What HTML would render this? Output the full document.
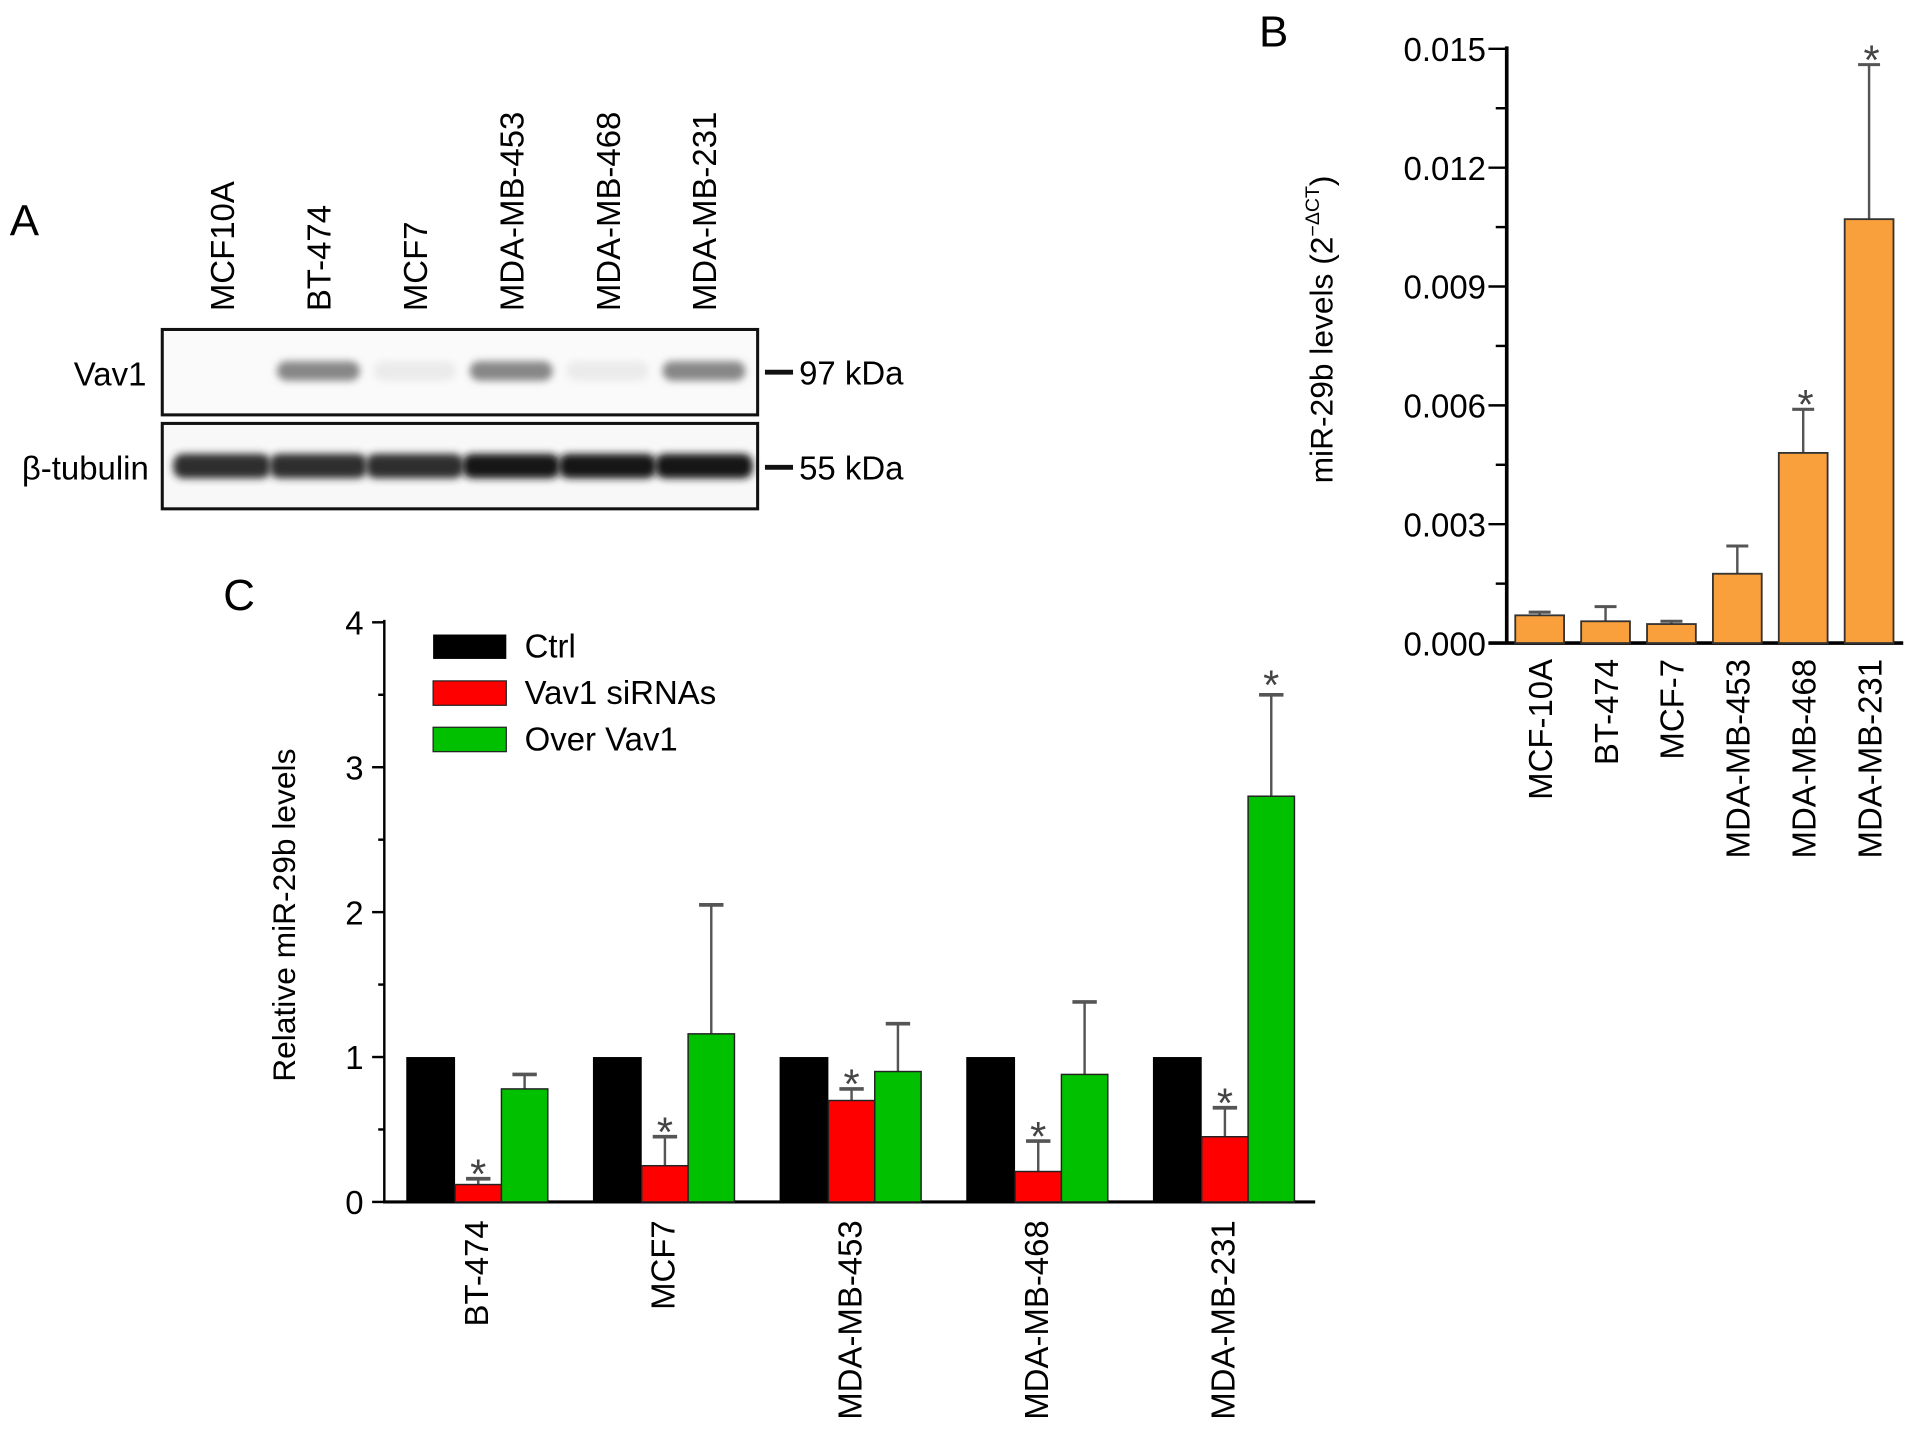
<!DOCTYPE html>
<html><head><meta charset="utf-8"><style>
html,body{margin:0;padding:0;background:#fff;}
svg{display:block;font-family:"Liberation Sans",Arial,sans-serif;}
</style></head><body>
<svg id="fig" width="1913" height="1435" viewBox="0 0 1568 1176" preserveAspectRatio="none">
<defs>
<filter id="blur" x="-20%" y="-50%" width="140%" height="200%"><feGaussianBlur stdDeviation="3"/></filter>
</defs>
<g id="panelA">
<text x="8" y="193" font-size="36">A</text>
<g id="laneLabels"></g>
<rect x="133" y="270" width="488" height="70" fill="#fafafa" stroke="#111" stroke-width="2.5"/>
<rect x="133" y="347" width="488" height="70" fill="#f8f8f8" stroke="#111" stroke-width="2.5"/>
<g id="bands"></g>
<text x="120" y="316" font-size="27" text-anchor="end">Vav1</text>
<text x="122" y="393" font-size="27" text-anchor="end">β-tubulin</text>
<line x1="627" y1="305" x2="650" y2="305" stroke="#111" stroke-width="4"/>
<text x="655" y="315" font-size="27">97 kDa</text>
<line x1="627" y1="383" x2="650" y2="383" stroke="#111" stroke-width="4"/>
<text x="655" y="393" font-size="27">55 kDa</text>
</g>
<g id="panelB">
<text x="1032" y="38" font-size="36">B</text>
<text transform="translate(1092,270) rotate(-90)" font-size="26" text-anchor="middle">miR-29b levels (2<tspan font-size="16" dy="-11">−ΔCT</tspan><tspan dy="11">)</tspan></text>
<g id="bG"></g>
</g>
<g id="panelC">
<text x="183" y="500" font-size="36">C</text>
<text transform="translate(242,750) rotate(-90)" font-size="26" text-anchor="middle">Relative miR-29b levels</text>
<g id="cG"></g>
<g>
<rect x="355" y="520" width="60" height="20" fill="#000"/>
<text x="430" y="539" font-size="27">Ctrl</text>
<rect x="355" y="558" width="60" height="20" fill="#f00" stroke="#222"/>
<text x="430" y="577" font-size="27">Vav1 siRNAs</text>
<rect x="355" y="596" width="60" height="20" fill="#00c000" stroke="#222"/>
<text x="430" y="615" font-size="27">Over Vav1</text>
</g>
</g>
</svg>
<script>
// Panel A data
const laneNames = ["MCF10A","BT-474","MCF7","MDA-MB-453","MDA-MB-468","MDA-MB-231"];
const vav1Intensity = [0, 0.6, 0.1, 0.6, 0.1, 0.6];
const tubulinIntensity = [0.85, 0.85, 0.85, 0.95, 0.95, 0.95];
// Panel B data
const bCats = ["MCF-10A","BT-474","MCF-7","MDA-MB-453","MDA-MB-468","MDA-MB-231"];
const bValues = [0.0007, 0.00055, 0.00048, 0.00175, 0.0048, 0.0107];
const bErrors = [0.00008, 0.00037, 0.00007, 0.0007, 0.0011, 0.0039];
const bStars = [false,false,false,false,true,true];
const bTicks = ["0.000","0.003","0.006","0.009","0.012","0.015"];
// Panel C data
const cCats = ["BT-474","MCF7","MDA-MB-453","MDA-MB-468","MDA-MB-231"];
const cCtrl = [1,1,1,1,1];
const cSi = [0.12,0.25,0.70,0.21,0.45];
const cSiErr = [0.04,0.20,0.08,0.21,0.20];
const cOver = [0.78,1.16,0.90,0.88,2.80];
const cOverErr = [0.10,0.89,0.33,0.50,0.70];
const cOverStar = [false,false,false,false,true];
const cTicks = ["0","1","2","3","4"];

const NS="http://www.w3.org/2000/svg";
function mk(parent,tag,attrs,text){const e=document.createElementNS(NS,tag);for(const k in attrs)e.setAttribute(k,attrs[k]);if(text!==undefined)e.textContent=text;parent.appendChild(e);return e;}

// Panel A
const laneX = i => 182 + i*79;
const ll=document.getElementById('laneLabels'), bands=document.getElementById('bands');
laneNames.forEach((n,i)=>{
  const t=mk(ll,'text',{transform:`translate(${laneX(i)+10},255) rotate(-90)`,'font-size':27},n);
  
  
  if(vav1Intensity[i]>0){
    const g=Math.round(255-200*vav1Intensity[i]);
    const b=mk(bands,'rect',{x:laneX(i)-34,y:296,width:68,height:16,rx:8,fill:`rgb(${g},${g},${g})`,filter:'url(#blur)'});
    
    
  }
  const g2=Math.round(255-245*tubulinIntensity[i]);
  const tb=mk(bands,'rect',{x:laneX(i)-40,y:372,width:80,height:20,rx:8,fill:`rgb(${g2},${g2},${g2})`,filter:'url(#blur)'});
  
  
});

// Panel B
const bG=document.getElementById('bG');
const bY=v=>527-(v/0.015)*487;
const bX=i=>1262+i*54;
mk(bG,'line',{x1:1235,y1:38,x2:1235,y2:528,stroke:'#000','stroke-width':3});
mk(bG,'line',{x1:1220,y1:527,x2:1560,y2:527,stroke:'#000','stroke-width':3});
for(let k=0;k<=10;k++){const v=k*0.0015;mk(bG,'line',{x1:k%2?1226:1220,y1:bY(v),x2:1235,y2:bY(v),stroke:'#000','stroke-width':2});}
bTicks.forEach((t,k)=>{const e=mk(bG,'text',{x:1218,y:bY(k*0.003)+10,'font-size':27,'text-anchor':'end'},t);
  
  });
bCats.forEach((c,i)=>{
  const x=bX(i),top=bY(bValues[i]+bErrors[i]);
  mk(bG,'line',{x1:x,y1:bY(bValues[i]),x2:x,y2:top,stroke:'#555','stroke-width':2});
  mk(bG,'line',{x1:x-9,y1:top,x2:x+9,y2:top,stroke:'#555','stroke-width':2.5});
  const r=mk(bG,'rect',{x:x-20,y:bY(bValues[i]),width:40,height:527-bY(bValues[i]),fill:'#f9a03c',stroke:'#333','stroke-width':1.5});
  
  
  if(bStars[i]){const s=mk(bG,'text',{x:x+2,y:top+8,'font-size':34,'text-anchor':'middle',fill:'#444'},'*');
    
    }
  const l=mk(bG,'text',{transform:`translate(${x+10},540) rotate(-90)`,'font-size':27,'text-anchor':'end'},c);
  
  
});

// Panel C
const cG=document.getElementById('cG');
const cY=v=>985-v*118.75;
const gX=i=>333+i*153;
mk(cG,'line',{x1:315,y1:508,x2:315,y2:986,stroke:'#000','stroke-width':2});
mk(cG,'line',{x1:314,y1:985,x2:1078,y2:985,stroke:'#000','stroke-width':2.5});
for(let k=0;k<=8;k++){const v=k*0.5;mk(cG,'line',{x1:k%2?310:305,y1:cY(v),x2:315,y2:cY(v),stroke:'#000','stroke-width':2});}
cTicks.forEach((t,k)=>{const e=mk(cG,'text',{x:298,y:cY(+t)+10,'font-size':27,'text-anchor':'end'},t);
  
  });
function err(x,v,e){const top=cY(v+e);mk(cG,'line',{x1:x,y1:cY(v),x2:x,y2:top,stroke:'#555','stroke-width':2});mk(cG,'line',{x1:x-10,y1:top,x2:x+10,y2:top,stroke:'#555','stroke-width':3});return top;}
cCats.forEach((c,i)=>{
  const x0=gX(i),w=38;
  const r1=mk(cG,'rect',{x:x0,y:cY(cCtrl[i]),width:40,height:985-cY(cCtrl[i]),fill:'#000'});
  
  
  const xs=x0+40;
  const t1=err(xs+w/2,cSi[i],cSiErr[i]);
  const r2=mk(cG,'rect',{x:xs,y:cY(cSi[i]),width:w,height:985-cY(cSi[i]),fill:'#f00',stroke:'#222','stroke-width':1.2});
  
  
  const s=mk(cG,'text',{x:xs+w/2,y:t1+8,'font-size':34,'text-anchor':'middle',fill:'#444'},'*');
  
  
  const xo=xs+w;
  const t2=err(xo+w/2,cOver[i],cOverErr[i]);
  const r3=mk(cG,'rect',{x:xo,y:cY(cOver[i]),width:w,height:985-cY(cOver[i]),fill:'#00c000',stroke:'#222','stroke-width':1.2});
  
  
  if(cOverStar[i]){const s2=mk(cG,'text',{x:xo+w/2,y:t2+4,'font-size':34,'text-anchor':'middle',fill:'#444'},'*');
    
    }
  const l=mk(cG,'text',{transform:`translate(${x0+67},1000) rotate(-90)`,'font-size':27,'text-anchor':'end'},c);
  
  
});
</script>
</body></html>
